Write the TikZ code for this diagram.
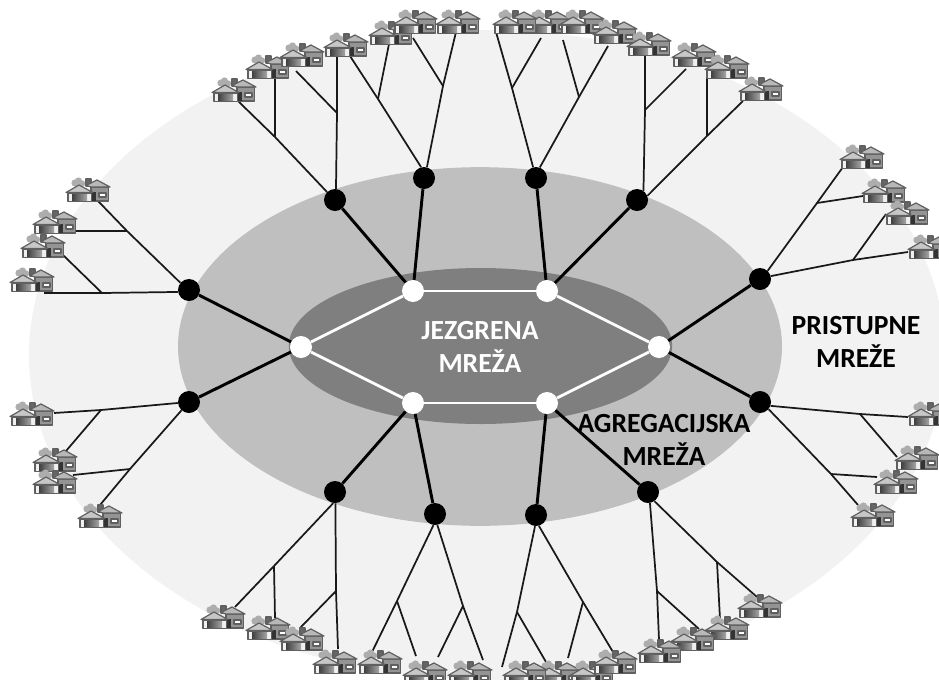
\documentclass[tikz,border=0pt]{standalone}
\usepackage{fontspec}
\usetikzlibrary{shapes.geometric}
\setmainfont{Carlito}
\definecolor{outerC}{HTML}{F2F2F2}
\definecolor{midC}{HTML}{BFBFBF}
\definecolor{coreC}{HTML}{7F7F7F}
\definecolor{hEdge}{HTML}{606060}
\tikzset{
  zone/.style={ellipse,draw=none,inner sep=0pt},
  blackdot/.style={circle,fill=black,inner sep=0pt,minimum size=16.5pt},
  whitedot/.style={circle,fill=white,inner sep=0pt,minimum size=16.5pt},
  coreedge/.style={white,line width=2.1pt},
  mainedge/.style={black,line width=2.2pt},
  feeder/.style={black!90,line width=1.3pt,line join=round},
  lbl/.style={font=\bfseries\fontsize{20.75}{24.5}\selectfont,align=center,inner sep=0pt},
  housebox/.style={rectangle,draw=none,inner sep=0pt,minimum width=36pt,minimum height=22.5pt,
    path picture={\begin{scope}[shift={(path picture bounding box.center)},line join=round,draw=hEdge,line width=.9pt]
      \fill[black!32] (-13,-7) circle (3.6) (-9.5,-9) circle (3.6) (-6,-6.5) circle (3.2);
      \filldraw[fill=black!60] (-2,-11) rectangle (3,-4);
      \filldraw[fill=black!42] (3,-3) rectangle (20.5,11);
      \filldraw[fill=black!28] (-2,-4.5) -- (9,-10) -- (22,-3) -- (3,-3) -- cycle;
      \fill[black!80] (3,2) rectangle (8,11);
      \filldraw[fill=white] (11,3) rectangle (18,7);
      \filldraw[fill=black!6] (-20,3) rectangle (3.5,11.5);
      \shade[left color=black!75,right color=black!35] (-16,4.5) rectangle (-1,10.8);
      \filldraw[fill=black!22] (-22,2.5) -- (-9,-5) -- (5,2.5) -- cycle;
    \end{scope}}},
}
% #1 start on node, #2 id, #3 far end, #4 junction, #5 branch end
\newcommand{\leaf}[5]{%
  \coordinate (#2e) at (#3);
  \coordinate (#2j) at (#4);
  \coordinate (#2b) at (#5);
  \draw[feeder] (#1) -- (#2j) -- (#2e);
  \draw[feeder] (#2j) -- (#2b);
}
\begin{document}
\begin{tikzpicture}[x=0.75pt,y=-0.75pt]
\useasboundingbox (0,0) rectangle (939,679);
\clip (0,0) rectangle (939,679);
\fill[white] (0,0) rectangle (939,679);
\node[zone,fill=outerC,minimum width=687pt,minimum height=487.5pt] (outer) at (487,355) {};
\node[zone,fill=midC,minimum width=453pt,minimum height=269pt] (mid) at (480,346.5) {};
\node[zone,fill=coreC,minimum width=287.5pt,minimum height=117pt] (core) at (480.5,346) {};
% core nodes
\node[whitedot] (c1) at (301,347) {};
\node[whitedot] (c2) at (413,291) {};
\node[whitedot] (c3) at (547,291) {};
\node[whitedot] (c4) at (659,347) {};
\node[whitedot] (c5) at (547,403) {};
\node[whitedot] (c6) at (413,403) {};
\draw[coreedge] (c1)--(c2); \draw[coreedge] (c2)--(c3); \draw[coreedge] (c3)--(c4);
\draw[coreedge] (c4)--(c5); \draw[coreedge] (c5)--(c6); \draw[coreedge] (c6)--(c1);
% aggregation nodes
\node[blackdot] (a1) at (335,200) {};
\node[blackdot] (a2) at (424,178) {};
\node[blackdot] (a3) at (536,178) {};
\node[blackdot] (a4) at (637,200) {};
\node[blackdot] (a5) at (760,279) {};
\node[blackdot] (a6) at (760,402) {};
\node[blackdot] (a7) at (648,492) {};
\node[blackdot] (a8) at (536,515) {};
\node[blackdot] (a9) at (435,514) {};
\node[blackdot] (a10) at (335,492) {};
\node[blackdot] (a11) at (189,402) {};
\node[blackdot] (a12) at (189,290) {};
\foreach \a/\c in {a1/c2,a2/c2,a3/c3,a4/c3,a5/c4,a6/c4,a7/c5,a8/c5,a9/c6,a10/c6,a11/c1,a12/c1}
  \draw[mainedge] (\a)--(\c);
% access lines
\leaf{a12.140}{l1}{98,201}{127,231}{76,231}
\leaf{a12.190}{l2}{44,293}{102,293}{63,255}
\leaf{a1.135}{l3}{238,101}{275,137}{275,79}
\leaf{a1.85}{l4}{337,55}{337,113}{296,71}
\leaf{a2.105}{l5}{350,56}{378,99}{389,44}
\leaf{a2.75}{l6}{456,32}{443,86}{413,38}
\leaf{a3.105}{l7}{496,32}{512,88}{541,38}
\leaf{a3.70}{l8}{608,46}{579,97}{563,40}
\leaf{a4.55}{l9}{645,56}{645,110}{686,69}
\leaf{a4.22}{l10}{743,101}{707,136}{707,78}
\leaf{a5.47}{l11}{843,167}{817,203}{863,196}
\leaf{a5.15}{l12}{908,252}{853,260}{886,214}
\leaf{a6.-20}{l13}{908,417}{860,414}{897,457}
\leaf{a6.-40}{l14}{858,505}{831,474}{877,477}
\leaf{a7.-55}{l15}{757,597}{717,562}{720,619}
\leaf{a7.-80}{l16}{659,640}{657,591}{699,629}
\leaf{a8.-95}{l17}{502,667}{517,612}{546,662}
\leaf{a8.-75}{l18}{613,652}{583,602}{568,658}
\leaf{a9.-98}{l19}{372,652}{397,601}{416,656}
\leaf{a9.-78}{l20}{483,660}{463,606}{438,657}
\leaf{a10.-99}{l21}{235,607}{274,566}{275,618}
\leaf{a10.-88}{l22}{338,649}{336,591}{300,628}
\leaf{a11.185}{l23}{54,413}{101,410}{66,451}
\leaf{a11.228}{l24}{100,505}{130,469}{73,475}
% houses
\foreach \n/\x/\y in {
 h1/88/190,h2/55/222,h3/43/246,h4/32/280,
 h5/234/90,h6/268/67,h7/302/55,h8/346/45,h9/391/33,h10/415/22,h11/458/22,
 h12/548/22,h13/515/22,h14/582/22,h15/615/32,h16/649/44,h17/694/55,h18/727/67,h19/761/89,
 h20/862/157,h21/884/191,h22/907/213,h23/930/247,
 h24/930/414,h25/917/458,h26/896/482,h27/873/515,
 h28/760/606,h29/727/628,h30/693/639,h31/660/651,
 h32/558/673,h33/525/673,h34/592/673,h35/615/662,
 h36/223/617,h37/268/628,h38/302/639,h39/335/662,h40/380/662,h41/425/673,h42/470/673,
 h43/32/414,h44/55/460,h45/55/482,h46/100/516}
  \node[housebox] (\n) at (\x,\y) {};
% labels
\node[lbl,text=white] (tcore) at (480,347) {JEZGRENA\\MREŽA};
\node[lbl,text=black] (tagg) at (664,440) {AGREGACIJSKA\\MREŽA};
\node[lbl,text=black] (tacc) at (856,342) {PRISTUPNE\\MREŽE};
\end{tikzpicture}
\end{document}
